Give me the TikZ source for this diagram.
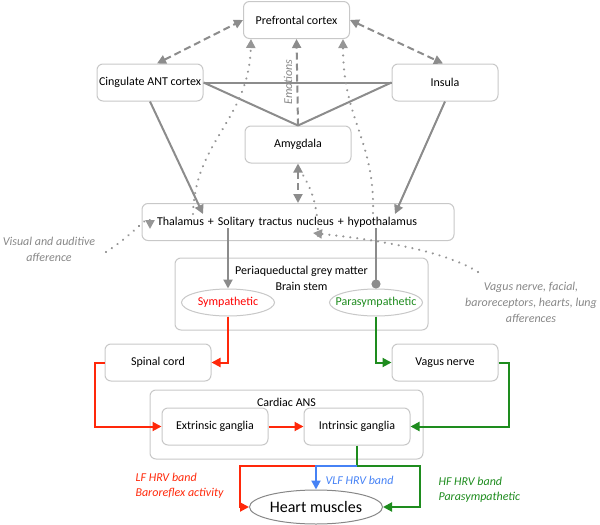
\documentclass[tikz,border=0pt]{standalone}
\usepackage{fontspec}
\setmainfont{Carlito}
\usetikzlibrary{arrows.meta,shapes.geometric,calc}
\definecolor{boxgray}{RGB}{200,200,200}
\definecolor{lgray}{RGB}{140,140,140}
\definecolor{dgray}{RGB}{150,150,150}
\definecolor{tgray}{RGB}{135,135,135}
\definecolor{symred}{RGB}{255,40,10}
\definecolor{pgreen}{RGB}{30,140,30}
\definecolor{vblue}{RGB}{70,130,245}
\begin{document}
\begin{tikzpicture}[x=1pt,y=-1pt,
  font=\fontsize{12}{15}\selectfont,
  box/.style={draw=boxgray, rounded corners=6pt, line width=1pt, fill=white,
    minimum width=106pt, minimum height=37pt, inner sep=1pt},
  ell/.style={ellipse, draw=boxgray, line width=1pt, minimum width=93pt, minimum height=27pt, inner sep=0pt},
  tipg/.style={-{Triangle[length=9pt,width=9pt]}},
  dtip/.style={{Triangle[length=9pt,width=9pt]}-{Triangle[length=9pt,width=9pt]}},
  gline/.style={draw=lgray, line width=2pt},
  dline/.style={draw=lgray, line width=2pt, dash pattern=on 7pt off 4pt},
  dotline/.style={draw=dgray, line width=2.4pt, line cap=round, dash pattern=on 0.01pt off 7pt},
  rline/.style={draw=symred, line width=2pt},
  gnline/.style={draw=pgreen, line width=2pt},
  bline/.style={draw=vblue, line width=2pt},
  itl/.style={font=\fontsize{12}{15}\selectfont\itshape}
]
\useasboundingbox (0,0) rectangle (600,525);

% boxes
\node[box] (pfc) at (296.5,20) {Prefrontal cortex};
\node[box] (cing) at (150,82.5) {Cingulate ANT cortex};
\node[box] (ins) at (445,82.5) {Insula};
\node[box] (amy) at (298,144.5) {Amygdala};
\node[box, text width=282pt, align=left, inner xsep=15pt] (thal) at (298,222) {Thalamus + Solitary tractus nucleus + hypothalamus};
\node[box, minimum width=253pt, minimum height=72pt] (pag) at (301.5,294) {};
\node[align=center, font=\fontsize{12}{16}\selectfont] (paglab) at (301.5,278.5) {Periaqueductal grey matter\\Brain stem};
\node[ell, label={[text=red]center:Sympathetic}] (sym) at (228,302.5) {};
\node[ell, label={[text=pgreen]center:Parasympathetic}] (para) at (376,302.5) {};
\node[box] (spinal) at (158,362.5) {Spinal cord};
\node[box] (vagus) at (445,362.5) {Vagus nerve};
\node[box, minimum width=273pt, minimum height=69pt] (cans) at (286.5,424.5) {};
\node (canslab) at (286.5,402) {Cardiac ANS};
\node[box] (extr) at (215,426.5) {Extrinsic ganglia};
\node[box] (intr) at (357,426.5) {Intrinsic ganglia};
\node[ellipse, draw=tgray, line width=1pt, minimum width=133pt, minimum height=34pt, inner sep=0pt,
  label={[font=\fontsize{16}{18}\selectfont]center:Heart muscles}] (heart) at (316,507) {};

% side labels
\node[itl, text=tgray, align=center, font=\fontsize{12}{16}\selectfont\itshape] (vis) at (49,249) {Visual and auditive\\afference};
\node[itl, text=tgray, align=center, font=\fontsize{12}{16}\selectfont\itshape] (vag) at (531,302) {Vagus nerve, facial,\\baroreceptors, hearts, lung\\afferences};
\node[itl, text=tgray, rotate=90] (emo) at (288,82) {Emotions};
\node[itl, text=symred, align=left, anchor=west] (lf) at (132,485.5) {LF HRV band\\Baroreflex activity};
\node[itl, text=vblue, anchor=west] (vlf) at (322,480) {VLF HRV band};
\node[itl, text=pgreen, align=left, anchor=west] (hf) at (435,490) {HF HRV band\\Parasympathetic};

% coordinates for free ends
\coordinate (thalL) at (203,214);
\coordinate (thalR) at (395,214);
\coordinate (thalS) at (228,228);
\coordinate (thalP) at (376,228);
\coordinate (visA) at (150,229);
\coordinate (visS) at (106,252);
\coordinate (thalPL) at (193,214);
\coordinate (thalPR) at (373,213);
\coordinate (vagS) at (478,272);
\coordinate (thalV) at (313,233);
\coordinate (thalA) at (318,236);
\coordinate (amyA) at (301,171);
\coordinate (split) at (357,466);
\coordinate (gR) at (420,466);
\coordinate (rL) at (240,466);

% gray solid
\draw[gline] (cing.east) -- (ins.west);
\draw[gline] (cing.east) -- (amy.north);
\draw[gline] (ins.west) -- (amy.north);
\draw[gline, tipg] (cing.south) -- (thalL);
\draw[gline, tipg] (ins.south) -- (thalR);
\draw[gline, tipg] (thalS) -- (sym.north);
\draw[gline, -{Circle[length=9pt]}] (thalP) -- (para.north);

% dashed
\draw[dline, dtip] ([xshift=7pt]cing.north) -- (pfc.west);
\draw[dline, dtip] (pfc.east) -- ([xshift=-2pt]ins.north);
\draw[dline, tipg] (amy.north) -- (pfc.south);
\draw[dline, dtip] (amy.south) -- (thal.north);

% dotted
\draw[dotline, tipg] (visS) .. controls (132,236) and (150,212) .. (visA);
\draw[dotline, tipg] (thalPL) .. controls (195,140) and (249,120) .. ([xshift=-45.5pt]pfc.south);
\draw[dotline, tipg] (thalPR) .. controls (375,140) and (343,120) .. ([xshift=46.5pt]pfc.south);
\draw[dotline, tipg] (vagS) .. controls (440,248) and (360,238) .. (thalV);
\draw[dotline] (thalA) .. controls (318,195) and (306,182) .. (amyA);

% red
\draw[rline, tipg] (sym.south) |- (spinal.east);
\draw[rline, tipg] (spinal.west) -- ++(-10,0) |- (extr.west);
\draw[rline, tipg] (extr.east) -- (intr.west);
\draw[rline, tipg] (heart.north |- split) -- (rL) |- (heart.west);

% green
\draw[gnline, tipg] (para.south) |- (vagus.west);
\draw[gnline, tipg] (vagus.east) -- ++(10,0) |- (intr.east);
\draw[gnline] (intr.south) -- (split);
\draw[gnline, tipg] (split) -- (gR) |- (heart.east);

% blue
\draw[bline, tipg] (split) -| (heart.north);
\end{tikzpicture}
\end{document}
